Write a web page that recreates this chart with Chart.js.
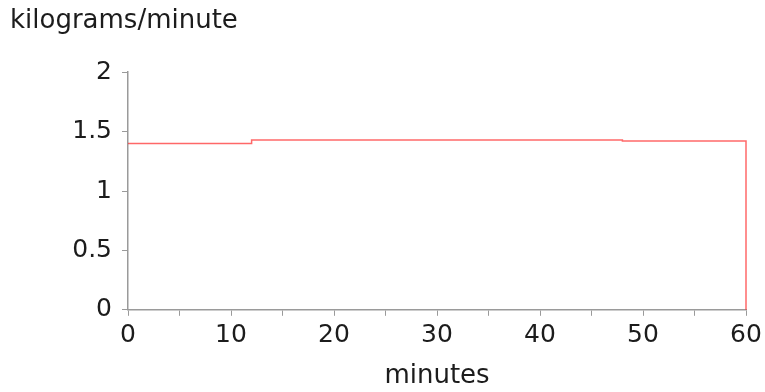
<!DOCTYPE html>
<html>
<head>
<meta charset="utf-8">
<script src="https://cdn.jsdelivr.net/npm/chart.js@4/dist/chart.umd.min.js"></script>
<style>
  html, body { margin: 0; padding: 0; background: #fff; }
  #wrap { width: 765px; height: 392px; }
</style>
</head>
<body>
<div id="wrap"><canvas id="rateChart" width="765" height="392"></canvas></div>
<script>
// tiempos donde cambia el caudal (minutos) y caudal de cada tramo
const breakMinutes = [0, 12, 48, 60];
const rates = [1.40, 1.43, 1.42];
const finalRate = 0;

const xTicks = [0, 10, 20, 30, 40, 50, 60];
const yTicks = [0, 0.5, 1, 1.5, 2];

// puntos del escalón: cada tramo empieza en su minuto, al final cae a 0
const points = breakMinutes.map((m, i) => ({
    x: m,
    y: i < rates.length ? rates[i] : finalRate
}));

const axisGray = '#9a9a9a';
const textColor = '#1c1c1c';
const fontFamily = '"DejaVu Sans", Verdana, sans-serif';

const ctx = document.getElementById('rateChart').getContext('2d');
const rateChart = new Chart(ctx, {
    type: 'line',
    data: {
        datasets: [{
            data: points,
            stepped: 'before', // horizontal primero, luego el salto
            borderColor: 'rgba(255, 40, 40, 0.7)',
            borderWidth: 1.5,
            pointRadius: 0,
            fill: false,
            clip: false // que no se recorte la caída final en x = 60
        }]
    },
    options: {
        responsive: false,
        animation: false,
        layout: { padding: { left: 10, right: 19, top: 0, bottom: 0 } },
        plugins: {
            legend: { display: false },
            tooltip: { enabled: false },
            title: {
                display: true,
                text: 'kilograms/minute',
                align: 'start',
                color: textColor,
                font: { family: fontFamily, size: 26, weight: 'normal' },
                padding: { top: 6, bottom: 35 }
            }
        },
        scales: {
            x: {
                type: 'linear',
                min: xTicks[0],
                max: xTicks[xTicks.length - 1],
                ticks: {
                    stepSize: 5,
                    autoSkip: false,
                    maxRotation: 0,
                    color: textColor,
                    font: { family: fontFamily, size: 25 },
                    padding: 5,
                    callback: v => xTicks.includes(v) ? String(v) : ''
                },
                grid: {
                    drawOnChartArea: false,
                    drawTicks: true,
                    tickLength: 6,
                    color: axisGray
                },
                border: { color: axisGray, width: 1.5 },
                title: {
                    display: true,
                    text: 'minutes',
                    color: textColor,
                    font: { family: fontFamily, size: 26 },
                    padding: { top: 5, bottom: 0 }
                },
                // el margen derecho lo marca layout.padding, no la etiqueta "60"
                afterFit: s => { s.paddingRight = 0; }
            },
            y: {
                min: yTicks[0],
                max: yTicks[yTicks.length - 1],
                ticks: {
                    stepSize: 0.5,
                    color: textColor,
                    font: { family: fontFamily, size: 25 },
                    padding: 10,
                    callback: v => yTicks.includes(v) ? String(v) : ''
                },
                grid: {
                    drawOnChartArea: false,
                    drawTicks: true,
                    tickLength: 6,
                    color: axisGray
                },
                border: { color: axisGray, width: 1.5 },
                afterFit: s => { s.width = 118; }
            }
        }
    }
});
</script>
</body>
</html>
